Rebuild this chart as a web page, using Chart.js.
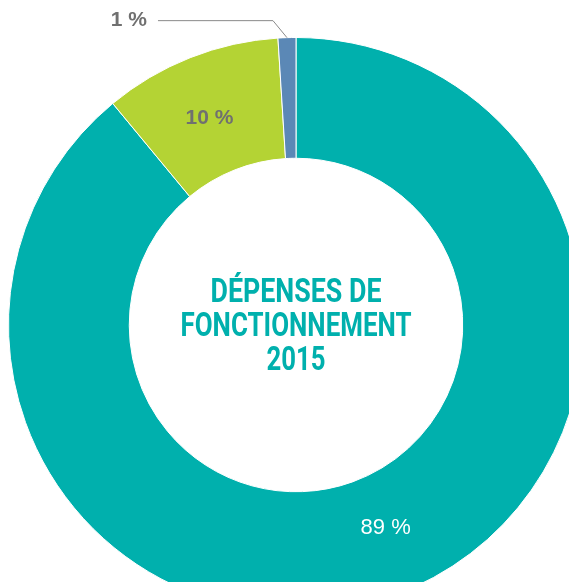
<!DOCTYPE html>
<html>
<head>
<meta charset="utf-8">
<script src="https://cdn.jsdelivr.net/npm/chart.js@4"></script>
<style>
  html, body { margin: 0; padding: 0; background: #fff; overflow: hidden; }
  #wrap { position: absolute; left: 0; top: 0; width: 592px; height: 650px; }
</style>
</head>
<body>
<div id="wrap"><canvas id="depChart"></canvas></div>
<script>
// Données
const labels = ['Fonctionnement', 'Autre', 'Divers'];
const values = [89, 10, 1];
const valueLabels = ['89 %', '10 %', '1 %'];
const colors = ['#00b0ad', '#b4d334', '#5b88b6'];
const titleLines = ['DÉPENSES DE', 'FONCTIONNEMENT', '2015'];

// Étiquettes des parts + titre central
const labelPlugin = {
  id: 'labelPlugin',
  afterDraw(chart) {
    const c = chart.ctx;
    const arcs = chart.getDatasetMeta(0).data;
    const cx = arcs[0].x, cy = arcs[0].y;
    c.save();

    arcs.forEach((arc, i) => {
      const mid = (arc.startAngle + arc.endAngle) / 2;
      const rMid = (arc.innerRadius + arc.outerRadius) / 2;
      if (i === 0) {
        // blanc, dans la part
        const a = mid - 0.07;
        c.fillStyle = '#ffffff';
        c.font = '22px "Liberation Sans", Arial, sans-serif';
        c.textAlign = 'center';
        c.textBaseline = 'middle';
        c.fillText(valueLabels[i], cx + Math.cos(a) * (rMid - 5), cy + Math.sin(a) * (rMid - 5));
      } else if (i === 1) {
        c.fillStyle = '#707070';
        c.font = 'bold 21px "Liberation Sans", Arial, sans-serif';
        c.textAlign = 'center';
        c.textBaseline = 'middle';
        c.fillText(valueLabels[i], cx + Math.cos(mid) * rMid - 3, cy + Math.sin(mid) * rMid + 4);
      } else {
        // ligne de rappel vers l'extérieur
        const px = cx + Math.cos(mid) * arc.outerRadius;
        const py = cy + Math.sin(mid) * arc.outerRadius;
        c.strokeStyle = '#8a8a8a';
        c.lineWidth = 1;
        c.beginPath();
        c.moveTo(px, py);
        c.lineTo(px - 14, py - 17);
        c.lineTo(px - 129, py - 17);
        c.stroke();
        c.fillStyle = '#707070';
        c.font = 'bold 21px "Liberation Sans", Arial, sans-serif';
        c.textAlign = 'right';
        c.textBaseline = 'middle';
        c.fillText(valueLabels[i], px - 140, py - 17);
      }
    });

    // titre central
    c.fillStyle = '#00b0ad';
    c.font = 'bold 33px Roboto, "DejaVu Sans Condensed", sans-serif';
    c.textAlign = 'center';
    c.textBaseline = 'alphabetic';
    const widths = [171, 231, 59];
    titleLines.forEach((t, i) => {
      c.fillText(t, cx, cy - 23 + i * 34, widths[i]);
    });
    c.restore();
  }
};

new Chart(document.getElementById('depChart').getContext('2d'), {
  type: 'doughnut',
  data: {
    labels: labels,
    datasets: [{
      data: values,
      backgroundColor: colors,
      borderColor: '#ffffff',
      borderWidth: 1
    }]
  },
  options: {
    responsive: true,
    maintainAspectRatio: false,
    animation: false,
    cutout: '58%',
    layout: { padding: 8 },
    plugins: {
      legend: { display: false },
      tooltip: { enabled: false }
    }
  },
  plugins: [labelPlugin]
});
</script>
</body>
</html>
